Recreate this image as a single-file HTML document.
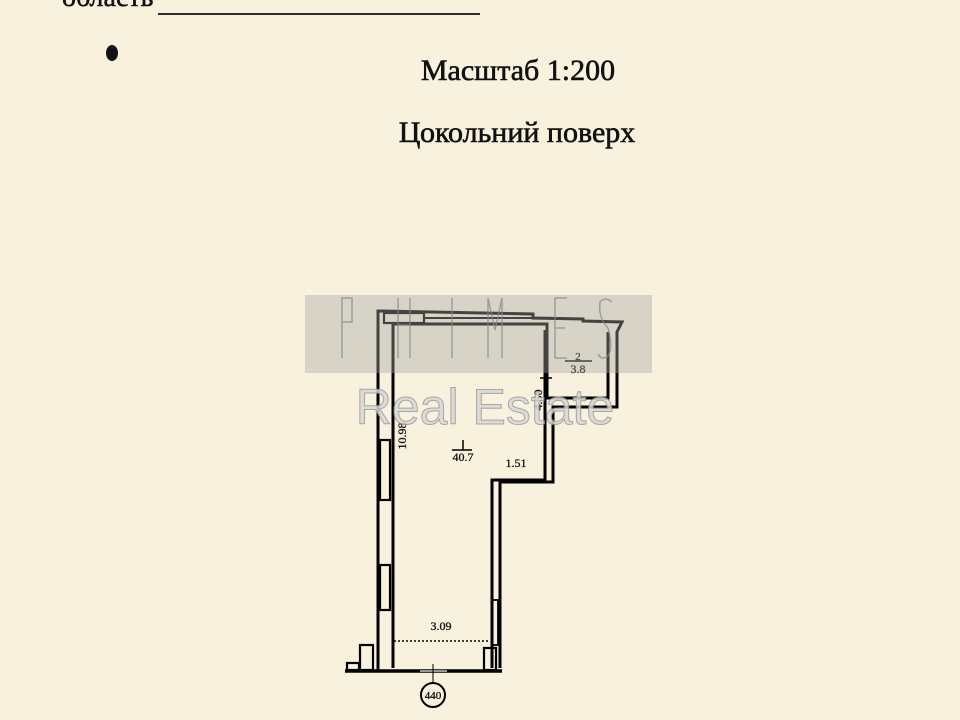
<!DOCTYPE html>
<html><head><meta charset="utf-8"><style>
html,body{margin:0;padding:0;}
body{width:960px;height:720px;background:#f7f1dd;overflow:hidden;position:relative;font-family:"Liberation Serif",serif;}
</style></head><body>
<svg width="960" height="720" viewBox="0 0 960 720" style="position:absolute;left:0;top:0">
<text x="62" y="6" font-family="Liberation Serif" font-size="28" fill="#111" stroke="#111" stroke-width="0.5">область</text>
<line x1="158" y1="14" x2="480" y2="14" stroke="#111" stroke-width="1.8"/>
<ellipse cx="112" cy="53" rx="6" ry="8" fill="#111"/>
<text x="518" y="80" text-anchor="middle" font-size="30" fill="#111" stroke="#111" stroke-width="0.6" font-family="Liberation Serif">Масштаб 1:200</text>
<text x="517" y="142" text-anchor="middle" font-size="30" fill="#111" stroke="#111" stroke-width="0.6" font-family="Liberation Serif">Цокольний поверх</text>

<g fill="none" stroke="#000" stroke-width="3">
<path d="M378 670 L378 311 L533 314 L533 318 L583 319 L583 321 L622 322 L617 332 L617 407 L553 407 L553 482 L500 482 L500 668"/>
<path d="M393 668 L393 324 L547 324 L547 398 L608 398 L608 332"/>
<path d="M545 330 L545 480 L492 480 L492 668"/>
<rect x="384" y="313" width="40" height="10" stroke-width="2.2"/>
<line x1="424" y1="318" x2="533" y2="318" stroke-width="2"/>
<rect x="380" y="440" width="10" height="60" stroke-width="2.2"/>
<rect x="380" y="565" width="10" height="45" stroke-width="2.2"/>
<rect x="484" y="648" width="12" height="22" stroke-width="2.2"/>
<rect x="492" y="600" width="6" height="45" stroke-width="1.8"/>
<rect x="360" y="645" width="13" height="25" stroke-width="2.2"/>
<rect x="347" y="663" width="12" height="7" stroke-width="2.2"/>
<line x1="345" y1="671" x2="502" y2="671" stroke-width="3.5"/>
<line x1="420" y1="671" x2="447" y2="671" stroke="#ccc" stroke-width="1.5"/>
<line x1="433" y1="664" x2="433" y2="682" stroke-width="1"/>
<circle cx="433" cy="695" r="12" stroke-width="2"/>
<line x1="394" y1="641" x2="490" y2="641" stroke-width="1.5" stroke-dasharray="2 2"/>
<line x1="540" y1="378" x2="552" y2="378" stroke-width="1.5"/>
<line x1="546" y1="374" x2="546" y2="384" stroke-width="1.5"/>
<line x1="565" y1="361" x2="592" y2="361" stroke-width="1.5"/>
<line x1="452" y1="450" x2="472" y2="450" stroke-width="1.5"/>
<line x1="463" y1="440" x2="463" y2="450" stroke-width="1.5"/>
</g>
<g font-family="Liberation Serif" fill="#111" stroke="#111" stroke-width="0.3">
<text x="433" y="699" text-anchor="middle" font-size="11">440</text>
<text x="441" y="630" text-anchor="middle" font-size="12">3.09</text>
<text x="516" y="467" text-anchor="middle" font-size="12">1.51</text>
<text x="463" y="461" text-anchor="middle" font-size="12">40.7</text>
<text x="578" y="360" text-anchor="middle" font-size="11">2</text>
<text x="578" y="373" text-anchor="middle" font-size="12">3.8</text>
<text transform="translate(406 436) rotate(-90)" text-anchor="middle" font-size="12">10.98</text>
<text transform="translate(542 400) rotate(-90)" text-anchor="middle" font-size="12">4.50</text>
</g>

<rect x="305" y="295" width="347" height="78" fill="#a8a8a6" opacity="0.4"/>
<g fill="none" stroke="#888" stroke-width="1.5" opacity="0.7">
<path d="M342 358 L342 298 L352 298 L352 322 L342 322"/>
<path d="M398 298 L398 358 M410 298 L410 358 M398 325 L410 325"/>
<path d="M452 298 L452 358"/>
<path d="M488 358 L488 298 L495 330 L502 298 L502 358"/>
<path d="M567 298 L555 298 L555 358 L567 358 M555 328 L565 328"/>
<path d="M612 302 Q605 296 600 302 Q598 318 608 328 Q614 350 607 357 Q601 360 598 354"/>
</g>
<text x="485" y="424" text-anchor="middle" font-family="Liberation Sans" font-size="50" fill="#d8d8d6" stroke="#999" stroke-width="1" opacity="0.85">Real Estate</text>
</svg>
</body></html>
